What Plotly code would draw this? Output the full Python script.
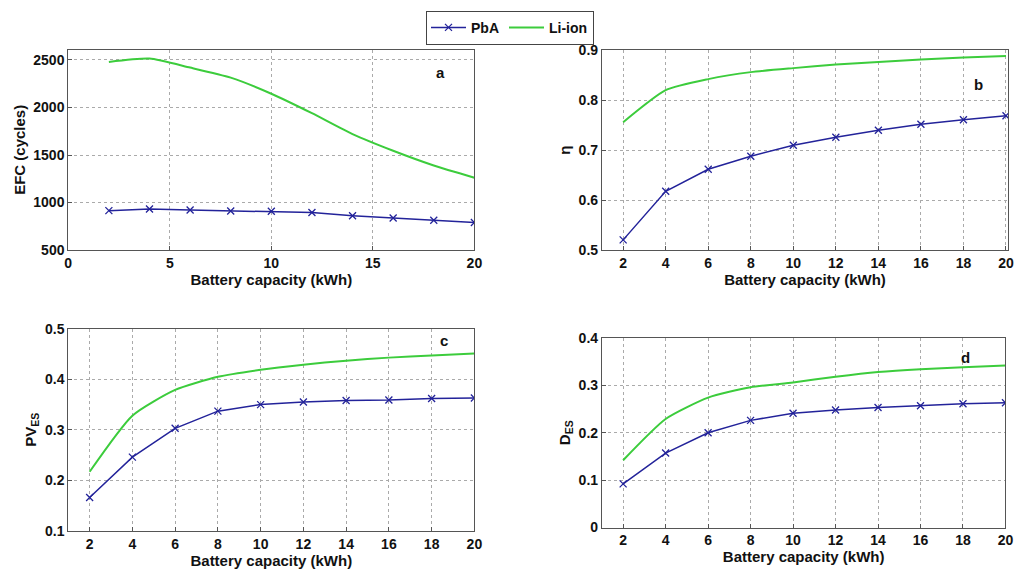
import plotly.graph_objects as go

capacity = [2, 4, 6, 8, 10, 12, 14, 16, 18, 20]

efc_pba = [915, 932, 922, 912, 909, 895, 862, 838, 814, 791]
efc_li = [2480, 2515, 2420, 2314, 2145, 1940, 1720, 1545, 1390, 1262]

eta_pba = [0.521, 0.618, 0.662, 0.688, 0.710, 0.726, 0.740, 0.752, 0.761, 0.769]
eta_li = [0.756, 0.820, 0.842, 0.856, 0.864, 0.871, 0.876, 0.881, 0.885, 0.888]

pves_pba = [0.166, 0.246, 0.303, 0.337, 0.350, 0.355, 0.358, 0.359, 0.362, 0.363]
pves_li = [0.217, 0.328, 0.379, 0.405, 0.419, 0.429, 0.437, 0.443, 0.447, 0.451]

des_pba = [0.092, 0.157, 0.200, 0.226, 0.241, 0.248, 0.253, 0.257, 0.261, 0.263]
des_li = [0.142, 0.229, 0.274, 0.296, 0.306, 0.318, 0.328, 0.334, 0.338, 0.342]

BLUE = "#23239a"
GREEN = "#3ccc3c"
FONT = "Liberation Sans, Arial, sans-serif"

fig = go.Figure()

panels = [
    ("x", "y", efc_pba, efc_li),
    ("x2", "y2", eta_pba, eta_li),
    ("x3", "y3", pves_pba, pves_li),
    ("x4", "y4", des_pba, des_li),
]
for i, (xa, ya, pba, li) in enumerate(panels):
    fig.add_trace(go.Scatter(
        x=capacity, y=pba, xaxis=xa, yaxis=ya, name="PbA", mode="lines+markers",
        line=dict(color=BLUE, width=1.5),
        marker=dict(symbol="x-thin-open", size=7, color=BLUE, line=dict(color=BLUE, width=1.3)),
        showlegend=(i == 0), legendgroup="pba"))
    fig.add_trace(go.Scatter(
        x=capacity, y=li, xaxis=xa, yaxis=ya, name="Li-ion", mode="lines",
        line=dict(color=GREEN, width=2, shape="spline", smoothing=0.6),
        showlegend=(i == 0), legendgroup="li"))

tickfont = dict(family=FONT, size=14, color="#111", weight="bold")
titlefont = dict(family=FONT, size=15, color="#111", weight="bold")

common = dict(showline=True, linecolor="#555", linewidth=1, mirror=True,
              showgrid=True, gridcolor="#aaa", griddash="dot", gridwidth=1,
              ticks="inside", ticklen=4, tickcolor="#555", tickfont=tickfont,
              zeroline=False)

xdom_l = [0.0635, 0.4648]
xdom_r = [0.5908, 0.9922]

fig.update_layout(
    width=1024, height=578,
    margin=dict(l=0, r=0, t=0, b=0),
    paper_bgcolor="white", plot_bgcolor="white",
    font=dict(family=FONT, color="#111"),
    showlegend=True,
    legend=dict(orientation="h", x=0.5, xanchor="center", y=0.995, yanchor="top",
                bordercolor="#444", borderwidth=1, bgcolor="white",
                font=dict(family=FONT, size=14, color="#111", weight="bold"),
                itemwidth=35, tracegroupgap=0),
    xaxis=dict(domain=xdom_l, anchor="y", range=[0, 20], tickvals=[0, 5, 10, 15, 20],
               title=dict(text="Battery capacity (kWh)", font=titlefont, standoff=1), **common),
    yaxis=dict(domain=[0.5692, 0.9261], anchor="x", range=[500, 2610],
               tickvals=[500, 1000, 1500, 2000, 2500],
               title=dict(text="EFC (cycles)", font=titlefont, standoff=4), **common),
    xaxis2=dict(domain=xdom_r, anchor="y2", range=[1, 20.1], tickvals=capacity,
                title=dict(text="Battery capacity (kWh)", font=titlefont, standoff=1), **common),
    yaxis2=dict(domain=[0.5687, 0.9251], anchor="x2", range=[0.5, 0.9],
                tickvals=[0.5, 0.6, 0.7, 0.8, 0.9],
                title=dict(text="η", font=titlefont, standoff=4), **common),
    xaxis3=dict(domain=xdom_l, anchor="y3", range=[1, 20], tickvals=capacity,
                title=dict(text="Battery capacity (kWh)", font=titlefont, standoff=1), **common),
    yaxis3=dict(domain=[0.0697, 0.4291], anchor="x3", range=[0.1, 0.5],
                tickvals=[0.1, 0.2, 0.3, 0.4, 0.5],
                title=dict(text="PV<sub>ES</sub>", font=titlefont, standoff=4), **common),
    xaxis4=dict(domain=[0.5908, 0.9896], anchor="y4", range=[1, 20], tickvals=capacity,
                title=dict(text="Battery capacity (kWh)", font=titlefont, standoff=1), **common),
    yaxis4=dict(domain=[0.0756, 0.4130], anchor="x4", range=[0, 0.4],
                tickvals=[0, 0.1, 0.2, 0.3, 0.4],
                title=dict(text="D<sub>ES</sub>", font=titlefont, standoff=4), **common),
)

labels = [("a", 442 / 1024, 1 - 56 / 578), ("b", 993 / 1024, 1 - 68 / 578),
          ("c", 445 / 1024, 1 - 342 / 578), ("d", 979 / 1024, 1 - 359 / 578)]
for txt, xp, yp in labels:
    fig.add_annotation(text=txt, x=xp, y=yp, xref="paper", yref="paper",
                       showarrow=False, font=dict(family=FONT, size=15, color="#111", weight="bold"))

fig.write_html("out.html")
